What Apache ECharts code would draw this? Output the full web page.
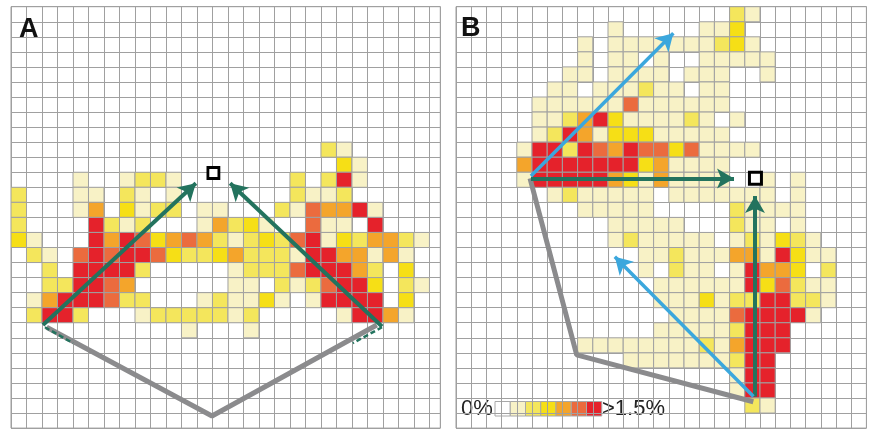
<!DOCTYPE html>
<html><head><meta charset="utf-8">
<script src="https://cdn.jsdelivr.net/npm/echarts@6/dist/echarts.min.js"></script>
<style>html,body{margin:0;padding:0;background:#fff}#c{width:872px;height:431px}</style>
</head><body><div id="c"></div>
<script>
// colour scale, 0% ... >1.5%
const levelColors = ['#ffffff','#f8f2c6','#f4e65c','#f6df16','#f4a52b','#eb6b3e','#e5222b'];
const legendLabels = ['0%', '>1.5%'];
const panelLabels = ['A', 'B'];

// Panel A: rows top->bottom, 28 columns (levels 0-6)
const panelA = [
 '0000000 0000000 0000000 0000000','0000000 0000000 0000000 0000000','0000000 0000000 0000000 0000000',
 '0000000 0000000 0000000 0000000','0000000 0000000 0000000 0000000','0000000 0000000 0000000 0000000',
 '0000000 0000000 0000000 0000000','0000000 0000000 0000000 0000000','0000000 0000000 0000000 0000000',
 '0000000 0000000 0000002 1000000',
 '0000000 0000000 0000000 3100000',
 '0000100 1221000 0000202 6100000',
 '2000110 2101000 0000211 2000000',
 '2000140 3122011 0002154 4610000',
 '2000062 1200014 2310051 1060000',
 '3100064 6534542 1232561 3244210',
 '0210565 6653223 4222166 4414100',
 '0020666 6200000 1222566 6420300',
 '0022665 4000000 1102125 6630210',
 '0146665 2200012 1131016 6660300',
 '0266200 0122222 1200000 1664100',
 '0000000 0000100 0100000 0000000',
 '0000000 0000000 0000000 0000000','0000000 0000000 0000000 0000000','0000000 0000000 0000000 0000000',
 '0000000 0000000 0000000 0000000','0000000 0000000 0000000 0000000','0000000 0000000 0000000 0000000'
];
// Panel B: rows top->bottom, 27 columns
const panelB = [
 '0000000 0000000 0000210 000000',
 '0000000 0001000 0011300 000000',
 '0000000 0101111 1112310 000000',
 '0000000 0101101 0011111 000000',
 '0000000 1101111 0111001 000000',
 '0000001 1011121 1011000 000000',
 '0000011 1111511 1111000 000000',
 '0000011 2463111 1210100 000000',
 '0000012 6413331 1111000 000000',
 '0000166 2654655 3511110 000000',
 '0000466 6666634 1111000 000000',
 '0000166 6664314 1111001 010000',
 '0000001 2111110 1111111 010000',
 '0000000 0111110 0000211 110000',
 '0000000 0001111 1000211 010000',
 '0000000 0001211 1110121 321000',
 '0000000 0000011 2111441 631100',
 '0000000 0000010 2110164 430200',
 '0000000 0000001 1111163 521100',
 '0000000 0000001 1131226 622100',
 '0000000 0000000 1111566 661000',
 '0000000 0000001 1111266 600000',
 '0000000 0111111 1121466 600000',
 '0000000 0000111 1111266 000000',
 '0000000 0000000 0000166 000000',
 '0000000 0000000 0000166 000000',
 '0000000 0000000 0000021 000000',
 '0000000 0000000 0000000 000000'
];

// overlays (grid-cell coordinates, x = column, y = row from top)
const bodyLineA = [[2.3,21.3],[12.97,27.2],[23.6,21.15]];
const greenArrowsA = [[[2.06,21.15],[11.93,11.73]], [[23.94,21.25],[14.14,11.73]]];
const dashedA = [[[2.19,21.3],[4.0,22.35]], [[23.94,21.3],[22.06,22.35]]];
const targetA = [[13.06,11.05]];

const bodyLineB = [[4.87,11.40],[7.94,23.14],[19.56,26.25]];
const greenArrowsB = [[[4.93,11.40],[18.29,11.42]], [[19.67,25.91],[19.67,12.58]]];
const blueArrowsB = [[[4.93,11.25],[14.30,1.77]], [[19.57,25.9],[10.45,16.61]]];
const targetB = [[19.70,11.40]];

function toCells(rows){
  const out=[];
  rows.forEach((s,r)=>{ s.replace(/ /g,'').split('').forEach((ch,c)=>{ const v=+ch; if(v>0) out.push([c,r,v]); }); });
  return out;
}

const chart = echarts.init(document.getElementById('c'), null, {renderer:'canvas'});
const gridLine = '#a0a0a0';
function axis(gi, max){
  return {gridIndex:gi, type:'value', min:0, max:max, interval:1,
    axisLine:{show:false}, axisTick:{show:false}, axisLabel:{show:false},
    splitLine:{show:true, lineStyle:{color:gridLine, width:1}}};
}
function heat(gi, rows){
  return {type:'custom', xAxisIndex:gi, yAxisIndex:gi, z:1, silent:true, clip:true,
    data: toCells(rows),
    renderItem(params, api){
      const c=api.value(0), r=api.value(1), lv=api.value(2);
      const p0=api.coord([c,r]), p1=api.coord([c+1,r+1]);
      return {type:'rect', shape:{x:p0[0], y:p0[1], width:p1[0]-p0[0], height:p1[1]-p0[1]},
        style:{fill:levelColors[lv], stroke:gridLine, lineWidth:1}};
    }};
}
function poly(gi, pts){
  return {type:'line', xAxisIndex:gi, yAxisIndex:gi, data:pts, symbol:'none', silent:true, z:3,
    lineStyle:{color:'#8b8b8d', width:5}};
}
function arrows(gi, list, color, width, dashed){
  return {type:'line', xAxisIndex:gi, yAxisIndex:gi, data:[], silent:true, z:dashed?3:4,
    markLine:{silent:true, animation:false, symbol: dashed?['none','none']:['none','arrow'], symbolSize:[15,17],
      label:{show:false}, emphasis:{disabled:true},
      lineStyle:{color:color, width:width, type: dashed?[5,3]:'solid', opacity:1},
      data:list.map(a=>[{coord:a[0]},{coord:a[1]}])}};
}
function target(gi, pts, size, bw){
  return {type:'scatter', xAxisIndex:gi, yAxisIndex:gi, data:pts, symbol:'rect', symbolSize:size, z:6, silent:true,
    itemStyle:{color:'#ffffff', borderColor:'#000000', borderWidth:bw, opacity:1}};
}

const legendItems = levelColors.map((col,i)=>({type:'rect', shape:{x:495+i*15.25, y:401.5, width:15.25, height:14.5},
  style:{fill:col, stroke:'#a8a8a8', lineWidth:1}}));

chart.setOption({
  animation:false,
  backgroundColor:'#ffffff',
  grid:[
    {left:11, top:6.7, width:429.3, height:421.4, show:true, borderColor:'#9c9c9c', borderWidth:1, backgroundColor:'#fff'},
    {left:456, top:6.7, width:410.4, height:421.4, show:true, borderColor:'#9c9c9c', borderWidth:1, backgroundColor:'#fff'}
  ],
  xAxis:[axis(0,27.7), axis(1,27)],
  yAxis:[Object.assign(axis(0,28),{inverse:true}), Object.assign(axis(1,28),{inverse:true})],
  series:[
    heat(0, panelA), heat(1, panelB),
    poly(0, bodyLineA), poly(1, bodyLineB),
    arrows(0, dashedA, '#23735e', 2.5, true),
    arrows(0, greenArrowsA, '#23735e', 4, false),
    arrows(1, greenArrowsB, '#23735e', 4, false),
    arrows(1, blueArrowsB, '#3ba7dd', 3.5, false),
    target(0, targetA, 11, 2.8), target(1, targetB, 12, 3)
  ],
  graphic:[
    {type:'text', left:19, top:16, z:10, style:{text:panelLabels[0], font:'bold 27px "Liberation Sans", Arial, sans-serif', fill:'#111'}},
    {type:'text', left:461, top:15, z:10, style:{text:panelLabels[1], font:'bold 27px "Liberation Sans", Arial, sans-serif', fill:'#111'}},
    {type:'group', z:10, children:[
      {type:'rect', shape:{x:457, y:397, width:213, height:23}, style:{fill:'#ffffff'}},
      {type:'text', x:461, y:409, style:{text:legendLabels[0], font:'22px "Liberation Sans", Arial, sans-serif', fill:'#222', textVerticalAlign:'middle'}},
      ...legendItems,
      {type:'text', x:602, y:409, style:{text:legendLabels[1], font:'22px "Liberation Sans", Arial, sans-serif', fill:'#222', textVerticalAlign:'middle'}}
    ]}
  ]
});
</script></body></html>
